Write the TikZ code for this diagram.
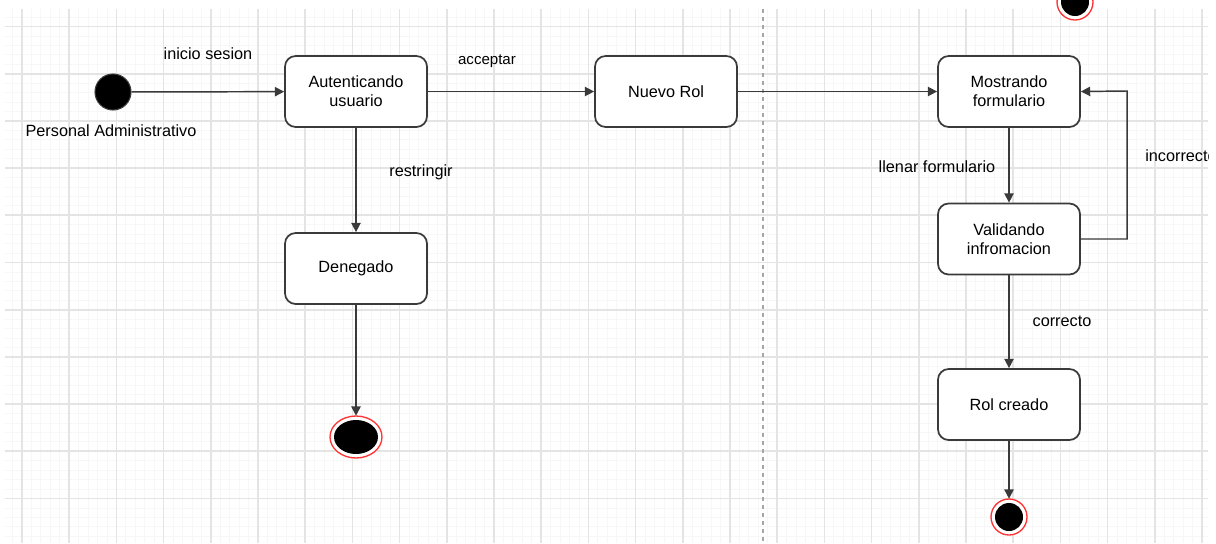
\documentclass[tikz,border=0pt]{standalone}
\usepackage{fontspec}
\setmainfont{Liberation Sans}
\usetikzlibrary{arrows.meta}
\definecolor{gridmaj}{HTML}{E4E4E4}
\definecolor{gridmin}{HTML}{F7F7F7}
\definecolor{strk}{HTML}{3A3A3A}
\definecolor{ringred}{HTML}{FF3333}
\tikzset{
  state/.style={draw=strk, line width=1.3pt, rounded corners=8pt, fill=white,
    minimum width=142*0.75pt, minimum height=71*0.75pt, align=center,
    font=\fontsize{12.2}{14.5}\selectfont, inner sep=0pt},
  lbl/.style={font=\fontsize{12.2}{14.5}\selectfont, inner sep=0pt},
  conn/.style={draw=strk, line width=1.1pt, -{Triangle[length=7pt,width=7pt]}},
  initst/.style={circle, fill=black, draw=strk, line width=0.8pt, minimum size=36*0.75pt, inner sep=0pt},
  endring/.style={draw=ringred, line width=1pt, fill=white},
}
\begin{document}
\begin{tikzpicture}[x=0.75pt,y=-0.75pt]
\useasboundingbox (0,0) rectangle (1216,543);
\fill[white] (0,0) rectangle (1216,543);
\begin{scope}
\clip (5,9) rectangle (1208,543);
% grid
\foreach \i in {-2,...,130} {
  \draw[gridmin, line width=0.6pt] ({22+9.44*\i},9) -- ({22+9.44*\i},543);
}
\foreach \i in {-2,...,60} {
  \draw[gridmin, line width=0.6pt] (5,{26.5+9.44*\i}) -- (1208,{26.5+9.44*\i});
}
\foreach \i in {0,...,26} {
  \draw[gridmaj, line width=1.3pt] ({22+47.2*\i},9) -- ({22+47.2*\i},543);
}
\foreach \i in {-1,...,12} {
  \draw[gridmaj, line width=1.3pt] (5,{26.5+47.2*\i}) -- (1208,{26.5+47.2*\i});
}
\draw[gray!70, dashed, line width=0.8pt] (763,9) -- (763,543);
\end{scope}

\begin{scope}
\clip (0,0) rectangle (1208,543);
% nodes
\node[initst] (ini) at (113,92) {};
\node[lbl, anchor=north] (pa) at (111,124) {Personal Administrativo};
\node[state] (aut) at (356,91.5) {Autenticando\\usuario};
\node[state] (nue) at (666,91.5) {Nuevo Rol};
\node[state] (mos) at (1009,91.5) {Mostrando\\formulario};
\node[state] (den) at (356,268.5) {Denegado};
\node[state] (val) at (1009,239) {Validando\\infromacion};
\node[state] (rol) at (1009,404.5) {Rol creado};

% end states
\filldraw[endring] (356,437) ellipse (26 and 21);
\fill[black] (356,437) ellipse (22 and 17);
\node[inner sep=0pt, minimum width=52*0.75pt, minimum height=42*0.75pt] (end1) at (356,437) {};

\filldraw[endring] (1009,517) circle (18);
\fill[black] (1009,517) circle (14);
\node[circle, inner sep=0pt, minimum size=36*0.75pt] (end2) at (1009,517) {};

\filldraw[endring] (1075,2) circle (18);
\fill[black] (1075,2) circle (14);
\node[circle, inner sep=0pt, minimum size=36*0.75pt] (end3) at (1075,2) {};

% connectors
\draw[conn] (ini) -- (aut);
\node[lbl] (l1) at (208,54) {inicio sesion};
\draw[conn] (aut) -- (nue);
\node[lbl, font=\fontsize{11.3}{13}\selectfont] (l2) at (487,61) {acceptar};
\draw[conn] (nue) -- (mos);
\draw[conn] (aut) -- (den);
\node[lbl] (l3) at (421,172) {restringir};
\draw[conn] (den) -- (end1);
\draw[conn] (mos) -- (val);
\node[lbl] (l4) at (937,167) {llenar formulario};
\coordinate (c1) at (1127,239);
\coordinate (c2) at (1127,91);
\draw[conn] (val.east) -- (c1) -- (c2) -- (mos.east);
\node[lbl, anchor=west] (l5) at (1145,156) {incorrecto};
\draw[conn] (val) -- (rol);
\node[lbl] (l6) at (1062,321) {correcto};
\draw[conn] (rol) -- (end2);
\end{scope}
\end{tikzpicture}
\end{document}
